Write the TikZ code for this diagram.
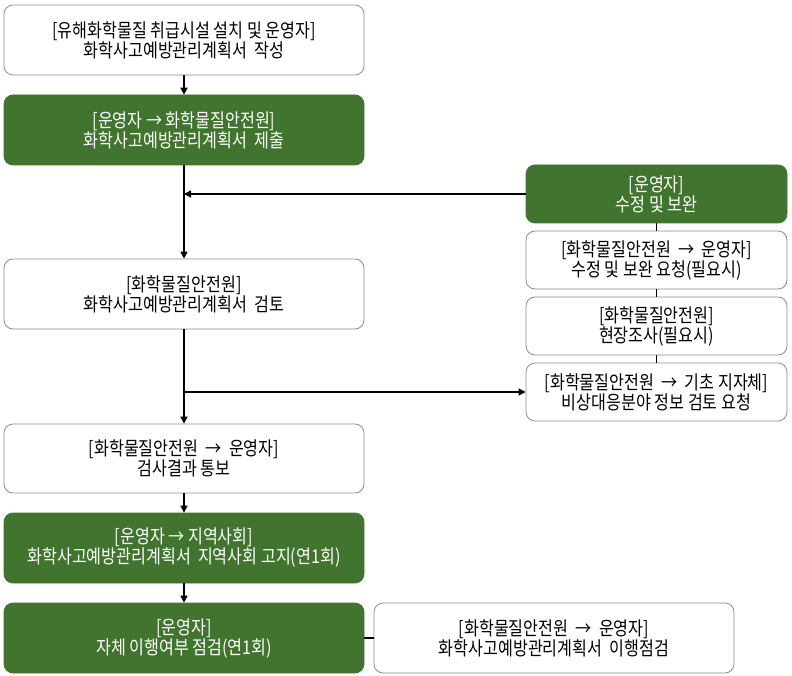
\documentclass[tikz,border=0pt]{standalone}
\usepackage{fontspec}
\setmainfont{Noto Sans CJK KR}[FakeStretch=0.85]
\usetikzlibrary{arrows.meta}
\definecolor{gfill}{HTML}{41752F}
\definecolor{bordergray}{HTML}{8C8C8C}
\begin{document}
\begin{tikzpicture}[x=1pt,y=-1pt,
  base/.style={rounded corners=9pt, align=center, inner sep=0pt,
    font=\fontsize{19}{20}\selectfont},
  wbox/.style={base, draw=bordergray, line width=0.8pt, fill=white, text=black},
  gbox/.style={base, fill=gfill, draw=gfill, line width=0.8pt, text=white},
  lbox/.style={minimum width=360pt, minimum height=70pt},
  rbox/.style={minimum width=261pt, minimum height=58pt},
  arr/.style={line width=1.5pt, -{Triangle[length=7pt,width=7pt]}},
  conn/.style={line width=1.5pt}]
\useasboundingbox (0,0) rectangle (792,676);
\node[wbox,lbox] (b1) at (184,40) {[유해화학물질 취급시설 설치 및 운영자]\\화학사고예방관리계획서\ \ 작성};
\node[gbox,lbox] (b2) at (184,130) {[운영자 → 화학물질안전원]\\화학사고예방관리계획서\ \ 제출};
\node[wbox,lbox] (b3) at (184,294) {[화학물질안전원]\\화학사고예방관리계획서\ \ 검토};
\node[wbox,lbox,minimum height=69pt] (b4) at (184,458.5) {[화학물질안전원\ \ →\ \ 운영자]\\검사결과 통보};
\node[gbox,lbox] (b5) at (184,548) {[운영자 → 지역사회]\\화학사고예방관리계획서\ \ 지역사회 고지(연1회)};
\node[gbox,lbox] (b6) at (184,638) {[운영자]\\자체 이행여부 점검(연1회)};
\node[wbox,lbox] (b7) at (554,638) {[화학물질안전원\ \ →\ \ 운영자]\\화학사고예방관리계획서\ \ 이행점검};
\node[gbox,rbox] (r1) at (656.5,194) {[운영자]\\수정 및 보완};
\node[wbox,rbox] (r2) at (656.5,260) {[화학물질안전원\ \ →\ \ 운영자]\\수정 및 보완 요청(필요시)};
\node[wbox,rbox] (r3) at (656.5,326) {[화학물질안전원]\\현장조사(필요시)};
\node[wbox,rbox] (r4) at (656.5,392) {[화학물질안전원\ \ →\ \ 기초 지자체]\\비상대응분야 정보 검토 요청};
\draw[arr] (b1.south) -- (b2.north);
\draw[arr] (b2.south) -- (b3.north);
\draw[arr] (r1.west) -- (r1.west -| b2.south);
\draw[conn] (r1.south) -- (r2.north);
\draw[conn] (r2.south) -- (r3.north);
\draw[conn] (r3.south) -- (r4.north);
\draw[arr] (b3.south) -- (b4.north);
\draw[arr] (b3.south |- r4.west) -- (r4.west);
\draw[arr] (b4.south) -- (b5.north);
\draw[arr] (b5.south) -- (b6.north);
\draw[conn] (b6.east) -- (b7.west);
\end{tikzpicture}
\end{document}
